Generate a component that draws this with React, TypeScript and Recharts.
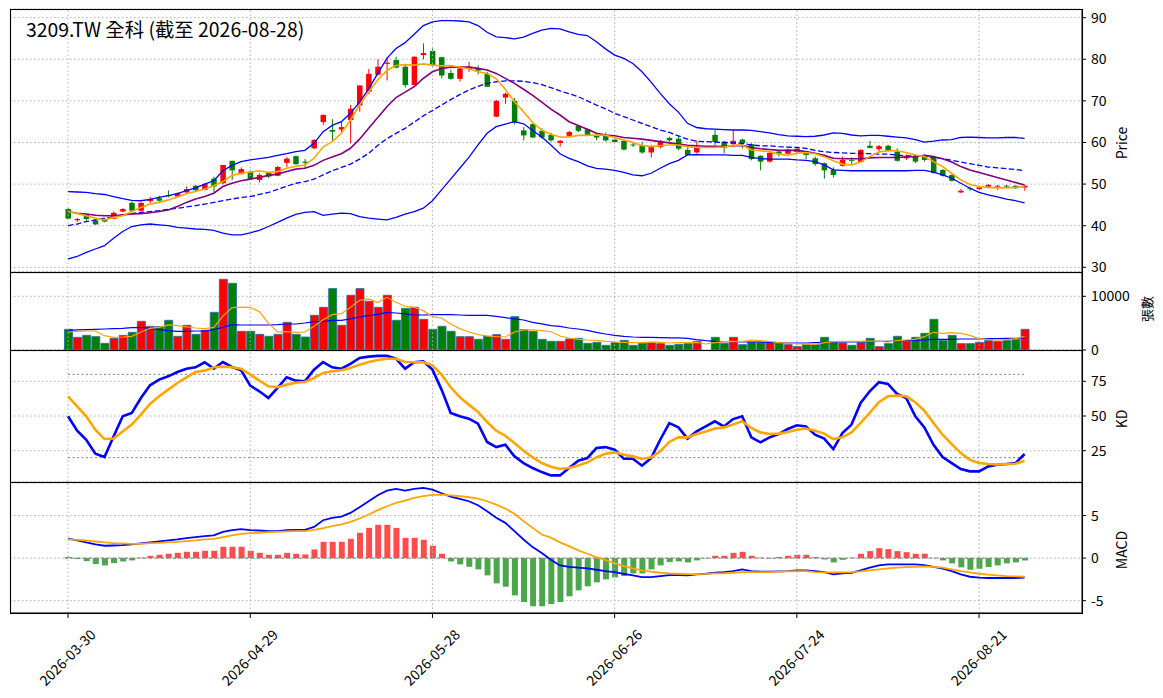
import { ComposedChart, Bar, Line, XAxis, YAxis, CartesianGrid, ReferenceLine, Cell } from "recharts"

const dates = (
  "2026-03-30 2026-03-31 2026-04-01 2026-04-02 2026-04-07 2026-04-08 2026-04-09 2026-04-10 " +
  "2026-04-13 2026-04-14 2026-04-15 2026-04-16 2026-04-17 2026-04-20 2026-04-21 2026-04-22 2026-04-23 2026-04-24 " +
  "2026-04-27 2026-04-28 2026-04-29 2026-04-30 2026-05-04 2026-05-05 2026-05-06 2026-05-07 2026-05-08 " +
  "2026-05-11 2026-05-12 2026-05-13 2026-05-14 2026-05-15 2026-05-18 2026-05-19 2026-05-20 2026-05-21 2026-05-22 " +
  "2026-05-25 2026-05-26 2026-05-27 2026-05-28 2026-05-29 2026-06-01 2026-06-02 2026-06-03 2026-06-04 2026-06-05 " +
  "2026-06-08 2026-06-09 2026-06-10 2026-06-11 2026-06-12 2026-06-15 2026-06-16 2026-06-17 2026-06-18 " +
  "2026-06-22 2026-06-23 2026-06-24 2026-06-25 2026-06-26 2026-06-29 2026-06-30 2026-07-01 2026-07-02 2026-07-03 " +
  "2026-07-06 2026-07-07 2026-07-08 2026-07-09 2026-07-10 2026-07-13 2026-07-14 2026-07-15 2026-07-16 2026-07-17 " +
  "2026-07-20 2026-07-21 2026-07-22 2026-07-23 2026-07-24 2026-07-27 2026-07-28 2026-07-29 2026-07-30 2026-07-31 " +
  "2026-08-03 2026-08-04 2026-08-05 2026-08-06 2026-08-07 2026-08-10 2026-08-11 2026-08-12 2026-08-13 2026-08-14 " +
  "2026-08-17 2026-08-18 2026-08-19 2026-08-20 2026-08-21 2026-08-24 2026-08-25 2026-08-26 2026-08-27 2026-08-28"
).split(" ")

const tickIdx = [0, 20, 40, 60, 80, 100]

const opens = [44.0, 41.3, 42.6, 41.3, 41.5, 41.7, 43.4, 45.5, 43.6, 45.9, 46.6, 47.3, 47.0, 48.0, 49.6, 48.6, 51.3, 50.2, 55.6, 52.4, 53.0, 51.0, 52.7, 52.0, 55.1, 56.7,
  55.4, 58.6, 64.9, 63.0, 63.1, 65.4, 68.9, 72.2, 76.3, 78.9, 79.8, 78.2, 73.8, 81.0, 82.0, 80.5, 76.7, 75.3, 77.7, 77.8, 76.5, 66.2, 70.8, 70.0, 62.9, 64.4, 62.8, 61.8,
  59.9, 61.6, 64.0, 63.2, 61.8, 61.8, 60.7, 60.4, 59.5, 59.4, 57.6, 58.9, 61.1, 60.9, 58.2, 57.6, 59.0, 61.8, 60.2, 59.6, 60.7, 59.6, 56.8, 55.4, 57.8, 57.3, 57.7, 57.6,
  56.2, 55.0, 53.4, 54.4, 55.8, 55.3, 59.2, 58.4, 59.2, 57.8, 56.2, 56.8, 56.8, 56.3, 53.4, 52.2, 48.0, 49.0, 48.8, 49.4, 49.4, 49.6, 49.6, 49.2]
const highs = [44.2, 41.9, 42.8, 41.4, 41.8, 43.4, 44.2, 45.8, 45.6, 46.9, 47.2, 48.5, 48.0, 49.4, 49.8, 50.2, 51.8, 54.6, 55.6, 54.0, 53.3, 52.6, 53.0, 54.4, 56.5, 56.9,
  56.0, 60.8, 66.8, 65.6, 65.0, 69.0, 73.8, 77.7, 80.0, 80.4, 80.6, 78.5, 80.7, 83.8, 82.6, 80.6, 77.5, 78.2, 79.4, 78.5, 77.0, 70.2, 72.0, 70.7, 63.7, 64.6, 63.4, 62.3,
  60.6, 62.8, 64.2, 63.4, 62.2, 62.4, 61.0, 60.6, 60.0, 60.2, 59.4, 60.6, 61.4, 61.4, 59.0, 60.5, 59.0, 63.0, 60.4, 62.9, 60.9, 59.8, 56.9, 57.7, 58.1, 58.5, 58.8, 57.8,
  56.6, 55.2, 54.0, 56.6, 56.4, 58.4, 60.4, 59.4, 59.4, 58.6, 57.1, 57.1, 57.1, 56.8, 53.6, 52.3, 48.8, 49.4, 49.4, 50.0, 49.8, 49.8, 49.7, 49.8]
const lows = [41.6, 40.9, 41.2, 40.2, 40.8, 41.6, 43.2, 43.5, 43.4, 45.4, 45.4, 46.8, 46.8, 47.8, 48.2, 48.5, 48.0, 50.0, 51.0, 52.3, 51.0, 50.4, 51.4, 51.9, 54.1, 54.6,
  53.8, 58.4, 64.2, 60.2, 62.2, 59.8, 67.4, 71.6, 76.1, 74.9, 77.8, 73.2, 73.7, 80.0, 78.2, 75.4, 75.1, 74.6, 77.0, 76.4, 73.3, 66.1, 69.3, 64.3, 60.5, 61.0, 60.9, 60.2,
  59.0, 61.4, 62.5, 61.7, 60.5, 60.2, 60.1, 58.1, 58.9, 57.3, 56.4, 58.6, 60.2, 58.1, 56.9, 57.3, 59.0, 59.4, 57.4, 59.0, 58.6, 55.7, 53.3, 55.2, 56.6, 57.2, 57.3, 56.0,
  54.4, 51.3, 51.6, 54.2, 54.8, 55.1, 58.6, 57.8, 57.8, 55.4, 55.8, 55.1, 55.4, 52.5, 51.8, 50.6, 47.8, 48.4, 48.5, 49.0, 48.6, 49.2, 48.8, 48.4]
const closes = [41.7, 41.6, 41.6, 40.3, 41.0, 43.1, 44.0, 43.6, 45.5, 46.4, 46.0, 47.1, 47.8, 48.8, 48.5, 50.0, 49.4, 54.6, 53.3, 53.6, 51.2, 52.2, 51.8, 54.1, 56.1, 54.8,
  55.1, 60.6, 66.6, 62.6, 63.7, 68.1, 73.7, 76.5, 78.2, 79.2, 78.0, 73.8, 80.6, 81.5, 78.6, 76.1, 75.3, 77.8, 78.2, 77.3, 73.4, 70.0, 71.7, 64.8, 61.7, 61.2, 61.2, 60.5,
  60.4, 62.5, 62.8, 61.8, 61.2, 60.5, 60.1, 58.3, 59.3, 57.6, 58.9, 60.3, 60.5, 58.5, 57.0, 59.0, 59.0, 60.1, 58.8, 60.4, 59.8, 56.0, 55.4, 57.5, 57.3, 58.3, 58.5, 57.0,
  54.8, 53.3, 52.2, 55.8, 55.6, 58.2, 58.7, 59.1, 58.0, 55.6, 56.8, 55.4, 55.8, 52.7, 52.0, 50.8, 48.4, 48.8, 49.2, 49.8, 49.6, 49.4, 49.0, 49.6]

const maFast = [43.4, 42.9, 42.4, 41.8, 41.4, 42.0, 42.4, 43.4, 44.4, 45.2, 45.6, 46.2, 46.9, 47.7, 48.2, 48.8, 49.6, 50.6, 52.1, 52.6, 52.9, 53.2, 52.8, 53.0, 53.8, 54.3,
  54.6, 56.2, 58.9, 60.2, 62.2, 65.4, 69.0, 72.2, 75.0, 77.3, 78.5, 78.7, 78.6, 78.9, 78.6, 78.4, 78.5, 78.1, 77.7, 77.0, 76.6, 75.3, 72.8, 69.8, 67.4, 64.8, 63.0, 62.0,
  61.3, 61.3, 61.7, 61.7, 61.8, 61.7, 61.2, 60.6, 60.0, 59.3, 59.0, 59.2, 59.4, 59.4, 59.0, 58.8, 58.8, 58.8, 58.9, 59.3, 59.4, 58.2, 58.0, 57.8, 57.2, 56.9, 57.4, 57.6,
  57.3, 56.6, 55.6, 54.8, 54.6, 55.3, 56.6, 57.7, 58.0, 58.0, 57.6, 57.0, 56.6, 55.4, 54.2, 52.6, 51.0, 49.9, 49.4, 49.2, 49.1, 49.1, 49.2, 49.4]
const maSlow = [43.4, 43.0, 42.8, 42.5, 42.4, 42.4, 42.6, 42.8, 42.9, 43.1, 43.4, 43.8, 44.6, 45.6, 46.4, 47.0, 47.8, 49.4, 50.2, 50.8, 51.2, 51.6, 52.1, 52.4, 53.0, 53.6,
  53.8, 54.5, 55.7, 56.5, 57.3, 58.6, 60.8, 63.4, 66.0, 68.6, 70.8, 72.1, 73.4, 75.4, 77.0, 77.8, 78.1, 78.1, 78.1, 77.8, 77.4, 76.6, 75.4, 74.2, 72.8, 71.3, 69.7, 68.0,
  66.6, 65.0, 64.1, 63.2, 62.2, 61.8, 61.6, 61.2, 61.0, 60.8, 60.5, 60.2, 59.9, 59.6, 59.3, 59.2, 59.1, 59.1, 59.0, 59.2, 59.3, 58.8, 58.5, 58.3, 58.1, 58.1, 58.1, 57.8,
  57.4, 56.9, 56.2, 56.1, 56.1, 56.1, 56.3, 56.4, 56.4, 56.4, 56.5, 56.6, 56.9, 56.6, 56.1, 55.3, 54.2, 53.4, 52.8, 52.2, 51.6, 51.0, 50.4, 49.8]
const bbUpper = [48.2, 48.1, 48.0, 47.7, 47.5, 47.0, 46.5, 46.1, 46.0, 46.3, 46.8, 47.2, 47.7, 48.4, 49.1, 50.0, 50.8, 53.2, 54.5, 55.4, 55.8, 56.1, 56.4, 56.9, 57.3, 57.8,
  58.1, 59.8, 62.6, 64.1, 65.0, 67.0, 69.7, 72.9, 76.6, 80.2, 82.6, 84.0, 86.0, 88.1, 89.0, 89.3, 89.3, 89.2, 89.0, 88.1, 86.5, 85.4, 85.2, 84.9, 85.3, 86.2, 87.0, 87.4,
  87.3, 86.6, 86.0, 85.7, 84.2, 82.5, 81.0, 80.2, 79.0, 77.0, 74.5, 71.8, 69.3, 67.3, 64.6, 63.6, 63.3, 63.2, 63.1, 63.0, 63.0, 62.9, 62.6, 62.3, 61.9, 61.6, 61.5, 61.4,
  61.5, 61.8, 62.3, 62.2, 61.8, 61.6, 61.7, 61.7, 61.5, 61.3, 61.1, 60.7, 60.1, 60.3, 60.6, 60.7, 61.2, 61.3, 61.2, 61.1, 61.1, 61.2, 61.2, 61.0]
const bbMid = [40.0, 40.4, 41.0, 41.4, 41.8, 42.1, 42.6, 42.9, 43.2, 43.4, 43.6, 43.9, 44.2, 44.5, 44.8, 45.2, 45.6, 46.0, 46.4, 46.8, 47.0, 47.5, 48.0, 48.7, 49.5, 50.2,
  50.6, 51.2, 52.2, 53.2, 54.0, 54.8, 56.0, 57.4, 59.3, 60.9, 62.2, 63.4, 64.9, 66.4, 67.7, 69.0, 70.3, 71.5, 72.6, 73.5, 74.2, 74.6, 74.8, 74.8, 74.7, 74.4, 73.9, 73.2,
  72.4, 71.7, 71.0, 70.0, 69.0, 68.1, 67.0, 66.2, 65.4, 64.6, 63.8, 63.0, 62.4, 61.6, 60.8, 60.3, 60.2, 60.1, 60.0, 59.9, 59.8, 59.4, 59.2, 59.2, 59.0, 58.9, 58.8, 58.6,
  58.1, 57.8, 57.6, 57.5, 57.4, 57.4, 57.3, 57.2, 57.2, 57.0, 56.8, 56.8, 56.6, 56.4, 56.1, 55.7, 55.3, 54.9, 54.5, 54.1, 53.9, 53.7, 53.5, 53.2]
const bbLower = [32.0, 32.6, 33.6, 34.4, 35.2, 37.0, 38.6, 39.8, 40.2, 40.4, 40.2, 40.0, 39.6, 39.4, 39.2, 39.1, 38.9, 38.2, 37.8, 37.8, 38.3, 38.9, 39.8, 40.8, 41.8, 42.7,
  43.2, 43.4, 42.5, 42.8, 43.0, 42.9, 42.2, 41.8, 41.6, 41.4, 42.0, 42.8, 43.4, 44.2, 46.0, 48.6, 51.2, 53.8, 56.4, 59.4, 62.2, 63.8, 64.4, 65.0, 64.5, 62.9, 61.3, 59.4,
  57.3, 56.2, 55.4, 54.4, 53.8, 53.6, 53.3, 52.8, 52.2, 52.0, 52.6, 53.8, 54.9, 55.7, 57.0, 57.1, 57.0, 57.0, 57.0, 56.9, 56.9, 56.4, 56.1, 56.0, 56.0, 56.0, 55.8, 55.7,
  55.4, 54.6, 53.4, 53.3, 53.2, 53.2, 53.2, 53.2, 53.2, 53.2, 53.2, 53.3, 53.3, 52.9, 52.2, 51.4, 50.2, 49.0, 48.0, 47.4, 46.9, 46.4, 46.0, 45.5]

const volumes = [3850, 2360, 2730, 2480, 1240, 2170, 2730, 3290, 5340, 4410, 4350, 5530, 2550, 4600, 2920, 3670, 7020, 13170, 12420, 3480, 3480, 2920, 2550, 2920, 5160, 2920,
  2420, 6460, 7950, 11430, 4600, 10190, 11430, 9070, 7950, 10190, 5530, 7760, 7950, 5710, 3850, 4410, 3480, 2480, 2480, 1990, 2550, 2860, 1990, 6210, 3790, 3480, 1990, 1620,
  1620, 2050, 2170, 1240, 1430, 870, 1370, 1800, 870, 1240, 1370, 1180, 870, 1060, 1180, 1620, 870, 2360, 1240, 2360, 990, 1430, 1430, 1430, 1240, 990, 620, 990,
  990, 2360, 1490, 1300, 870, 1430, 2170, 620, 1180, 2550, 1620, 2360, 3110, 5710, 1740, 2730, 1180, 1180, 1430, 1740, 1620, 1740, 1930, 3850]
const volMa5 = [3350, 3480, 3540, 3540, 2670, 2360, 2420, 2550, 3350, 4040, 4220, 4660, 4530, 4290, 4100, 3980, 4220, 6300, 7900, 8000, 7950, 7150, 5000, 3350, 3420, 3290,
  3350, 4410, 5650, 6580, 6770, 7950, 9250, 9500, 8820, 9810, 8880, 8140, 7950, 7330, 6210, 5960, 4850, 3980, 3350, 2860, 2610, 2480, 2420, 3350, 3730, 3730, 3600, 3400,
  2600, 2240, 1990, 1860, 1800, 1620, 1490, 1430, 1370, 1370, 1490, 1430, 1300, 1370, 1370, 1430, 1120, 1370, 1550, 1620, 1550, 1860, 1740, 1620, 1370, 1300, 1120, 1090,
  1060, 1370, 1550, 1620, 1620, 1620, 1680, 1620, 1490, 1740, 1860, 1990, 2480, 3290, 3110, 3230, 3110, 2730, 2110, 1930, 1860, 1930, 2110, 2550]
const volMa20 = [3670, 3730, 3790, 3850, 3910, 3980, 4040, 4160, 4220, 4040, 3790, 3600, 3480, 3480, 3540, 3540, 3790, 4220, 4720, 4660, 4660, 4660, 4660, 4720, 4840, 4840,
  5030, 5280, 5280, 5530, 5530, 5780, 6150, 6400, 6650, 7020, 6890, 6710, 6520, 6520, 6580, 6580, 6580, 6520, 6460, 6460, 6460, 6270, 6030, 5780, 5590, 5160, 4850, 4530,
  4410, 4100, 3910, 3660, 3290, 2980, 2730, 2550, 2420, 2360, 2360, 2300, 2240, 2240, 2170, 1930, 1740, 1620, 1550, 1550, 1490, 1490, 1490, 1430, 1370, 1300, 1300, 1300,
  1370, 1430, 1490, 1490, 1490, 1550, 1550, 1620, 1620, 1680, 1740, 1800, 1860, 1990, 1990, 1990, 2050, 2050, 2050, 2110, 2110, 2170, 2170, 2240]

const kLine = [49.8, 39.4, 32.9, 22.8, 20.4, 35.3, 49.8, 52.2, 63.0, 72.1, 76.2, 78.6, 81.7, 84.1, 85.1, 88.7, 84.1, 88.9, 85.3, 82.9, 71.9, 67.8, 63.0, 70.2, 77.9, 75.5,
  75.0, 83.4, 88.9, 85.1, 84.1, 87.5, 91.8, 92.8, 93.3, 93.3, 91.3, 84.1, 88.7, 89.4, 83.4, 69.0, 52.2, 49.8, 48.1, 44.5, 31.3, 27.6, 29.3, 20.9, 16.1, 12.5, 9.6, 7.2,
  7.2, 12.5, 17.8, 19.7, 26.9, 27.6, 25.7, 19.2, 19.2, 14.2, 19.7, 32.9, 44.9, 41.8, 33.7, 38.9, 42.5, 46.2, 42.5, 47.8, 49.8, 34.6, 31.0, 34.6, 37.0, 40.6, 43.3, 42.5,
  36.5, 33.7, 26.2, 37.7, 43.8, 59.4, 67.8, 74.3, 73.1, 65.9, 63.0, 49.8, 41.8, 29.3, 20.4, 16.1, 11.8, 10.1, 10.1, 13.7, 14.9, 15.4, 16.1, 22.6]
const dLine = [64.2, 57.0, 49.8, 40.1, 33.4, 33.7, 38.9, 43.8, 51.0, 58.7, 64.2, 69.0, 73.8, 77.9, 81.7, 82.7, 85.1, 85.6, 85.1, 84.1, 79.8, 75.5, 71.4, 70.7, 72.6, 74.0,
  74.5, 77.4, 81.0, 82.2, 82.9, 84.6, 87.0, 88.9, 90.4, 91.3, 91.3, 88.9, 88.7, 88.7, 86.5, 79.8, 70.7, 63.5, 58.2, 52.9, 45.7, 39.4, 35.8, 30.5, 25.0, 20.2, 16.1, 13.5,
  11.8, 12.5, 14.4, 16.6, 20.2, 22.8, 23.8, 22.1, 20.9, 19.0, 20.2, 24.5, 31.3, 34.6, 34.6, 37.0, 38.9, 40.9, 41.8, 43.8, 46.2, 41.4, 38.2, 37.0, 37.3, 38.5, 40.1, 41.0,
  39.4, 37.3, 33.4, 34.6, 38.2, 45.0, 52.2, 59.9, 64.2, 64.7, 64.2, 59.9, 53.8, 45.0, 36.5, 29.8, 23.3, 18.5, 16.1, 15.4, 15.1, 15.4, 15.6, 17.8]

const dif = [2.30, 2.07, 1.84, 1.60, 1.45, 1.48, 1.52, 1.60, 1.72, 1.84, 1.95, 2.07, 2.19, 2.34, 2.46, 2.58, 2.66, 3.09, 3.28, 3.40, 3.28, 3.24, 3.16, 3.16, 3.28, 3.32,
  3.32, 3.67, 4.45, 4.73, 4.88, 5.31, 5.98, 6.68, 7.38, 7.93, 8.13, 7.93, 8.13, 8.24, 8.05, 7.62, 7.23, 6.95, 6.68, 6.21, 5.51, 4.73, 4.14, 3.16, 2.19, 1.29, 0.59, -0.20,
  -0.86, -1.02, -1.13, -1.21, -1.37, -1.52, -1.64, -1.84, -2.03, -2.23, -2.23, -2.11, -1.99, -1.99, -2.03, -1.91, -1.84, -1.72, -1.64, -1.52, -1.33, -1.52, -1.60, -1.60, -1.56, -1.52, -1.45, -1.45,
  -1.52, -1.64, -1.91, -1.80, -1.72, -1.45, -1.13, -0.86, -0.74, -0.74, -0.74, -0.74, -0.82, -1.02, -1.25, -1.52, -1.91, -2.19, -2.30, -2.34, -2.34, -2.34, -2.34, -2.30]
const dea = [2.19, 2.15, 2.07, 1.95, 1.84, 1.76, 1.72, 1.68, 1.68, 1.76, 1.80, 1.88, 1.91, 1.99, 2.07, 2.19, 2.27, 2.46, 2.66, 2.85, 2.93, 2.97, 3.05, 3.09, 3.13, 3.16,
  3.16, 3.32, 3.52, 3.75, 3.95, 4.26, 4.65, 5.12, 5.63, 6.09, 6.48, 6.76, 7.07, 7.27, 7.42, 7.46, 7.38, 7.27, 7.15, 6.99, 6.68, 6.29, 5.82, 5.20, 4.34, 3.55, 2.77, 2.40,
  1.85, 1.41, 0.90, 0.51, 0.12, -0.23, -0.59, -0.94, -1.21, -1.45, -1.60, -1.72, -1.80, -1.84, -1.88, -1.88, -1.86, -1.80, -1.78, -1.72, -1.64, -1.64, -1.64, -1.64, -1.60, -1.56, -1.52, -1.52,
  -1.64, -1.68, -1.68, -1.68, -1.64, -1.56, -1.45, -1.33, -1.21, -1.13, -1.05, -1.02, -0.98, -1.02, -1.13, -1.33, -1.52, -1.68, -1.84, -1.95, -2.03, -2.11, -2.15, -2.19]
const hist = [0.12, -0.12, -0.35, -0.70, -0.86, -0.59, -0.39, -0.27, 0.05, 0.27, 0.39, 0.51, 0.62, 0.74, 0.74, 0.86, 0.86, 1.33, 1.33, 1.33, 0.86, 0.62, 0.39, 0.39, 0.62, 0.51,
  0.43, 1.02, 1.91, 1.91, 1.91, 2.27, 2.97, 3.55, 3.91, 3.91, 3.55, 2.38, 2.38, 2.15, 1.45, 0.51, -0.39, -0.74, -1.02, -1.33, -2.03, -2.97, -3.36, -4.38, -5.16, -5.66, -5.66, -5.40,
  -5.16, -4.49, -3.79, -3.32, -2.85, -2.50, -2.27, -2.11, -1.80, -1.80, -1.33, -0.86, -0.47, -0.39, -0.51, -0.27, -0.04, 0.27, 0.27, 0.62, 0.74, 0.27, 0.04, -0.04, 0.12, 0.27, 0.39, 0.39,
  0.12, -0.16, -0.51, -0.20, 0.04, 0.51, 0.82, 1.17, 1.05, 0.82, 0.70, 0.51, 0.51, 0.02, -0.27, -0.62, -1.09, -1.37, -1.25, -1.05, -0.86, -0.62, -0.51, -0.27]

const rows = dates.map((date, i) => ({
  i,
  date,
  open: opens[i],
  high: highs[i],
  low: lows[i],
  close: closes[i],
  maFast: maFast[i],
  maSlow: maSlow[i],
  bbUpper: bbUpper[i],
  bbMid: bbMid[i],
  bbLower: bbLower[i],
  vol: volumes[i],
  volMa5: volMa5[i],
  volMa20: volMa20[i],
  k: kLine[i],
  d: dLine[i],
  dif: dif[i],
  dea: dea[i],
  hist: hist[i],
}))

const UP = "#ff0000"
const DOWN = "#008000"
const candleColor = (r: any) => (r.close > r.open ? UP : r.close < r.open ? DOWN : "#ffffff")

const W = 1163
const AXIS_W = 81
const X_DOMAIN: [number, number] = [-6.37, 111.3]
const MARGIN = { top: 0, right: 0, bottom: 0, left: 10 }
const GRID = "#b0b0b0"
const DOTS = "1.5 2.5"
const tickStyle = { fontSize: 14, fill: "#000" }
const SVG_STYLE = { overflow: "visible" as const }

function Candle(props: any) {
  const { x, y, width, height, payload } = props
  const color = candleColor(payload)
  const cx = x + width / 2
  const span = payload.high - payload.low
  const ratio = span > 0 ? height / span : 0
  const py = (v: number) => y + (payload.high - v) * ratio
  const top = py(Math.max(payload.open, payload.close))
  const bot = py(Math.min(payload.open, payload.close))
  return (
    <g>
      <line x1={cx} x2={cx} y1={y} y2={y + height} stroke={color} strokeWidth={1} />
      <rect x={x} y={top} width={width} height={Math.max(bot - top, 0.9)} fill={color} />
    </g>
  )
}

function DateTick(props: any) {
  const { x, y, payload } = props
  return (
    <text
      transform={`translate(${x - 1},${y + 39}) rotate(-45)`}
      textAnchor="middle"
      dominantBaseline="central"
      fontSize={14}
      fill="#000"
    >
      {dates[payload.value]}
    </text>
  )
}

function VGrid() {
  return tickIdx.map((t) => (
    <ReferenceLine key={"v" + t} x={t} stroke={GRID} strokeDasharray={DOTS} />
  ))
}

function yAxisProps(domain: [number, number], ticks: number[]) {
  return {
    yAxisId: 0,
    orientation: "right" as const,
    width: AXIS_W,
    type: "number" as const,
    domain,
    ticks,
    allowDataOverflow: true,
    interval: 0 as const,
    tick: tickStyle,
    tickSize: 4,
    tickMargin: 5,
    axisLine: { stroke: "#000" },
    tickLine: { stroke: "#000" },
  }
}

function PriceChart() {
  return (
    <ComposedChart width={W} height={263} data={rows} margin={MARGIN} style={SVG_STYLE}>
      <CartesianGrid vertical={false} stroke={GRID} strokeDasharray={DOTS} />
      <XAxis dataKey="i" type="number" domain={X_DOMAIN} ticks={tickIdx} allowDataOverflow hide />
      <YAxis {...yAxisProps([28.87, 92.08], [30, 40, 50, 60, 70, 80, 90])} />
      {VGrid()}
      <Bar dataKey={(r: any) => [r.low, r.high]} barSize={5.5} shape={(p: any) => <Candle {...p} />} isAnimationActive={false} />
      <Line dataKey="bbUpper" stroke="#0000ff" strokeWidth={1.3} dot={false} isAnimationActive={false} />
      <Line dataKey="bbMid" stroke="#0000ff" strokeWidth={1.3} strokeDasharray="5.5 2.5" dot={false} isAnimationActive={false} />
      <Line dataKey="bbLower" stroke="#0000ff" strokeWidth={1.3} dot={false} isAnimationActive={false} />
      <Line dataKey="maSlow" stroke="#800080" strokeWidth={1.6} dot={false} isAnimationActive={false} />
      <Line dataKey="maFast" stroke="#ffa500" strokeWidth={1.6} dot={false} isAnimationActive={false} />
    </ComposedChart>
  )
}

function VolumeChart() {
  return (
    <ComposedChart width={W} height={78} data={rows} margin={MARGIN} style={SVG_STYLE}>
      <CartesianGrid vertical={false} stroke={GRID} strokeDasharray={DOTS} />
      <XAxis dataKey="i" type="number" domain={X_DOMAIN} ticks={tickIdx} allowDataOverflow hide />
      <YAxis {...yAxisProps([0, 14525], [0, 10000])} />
      {VGrid()}
      <Bar dataKey="vol" barSize={8} isAnimationActive={false}>
        {rows.map((r) => {
          const c = candleColor(r)
          return <Cell key={r.i} fill={c} stroke={c === "#ffffff" ? "none" : "#2a6fa6"} strokeWidth={0.9} />
        })}
      </Bar>
      <Line dataKey="volMa20" stroke="#0000ff" strokeWidth={1.2} dot={false} isAnimationActive={false} />
      <Line dataKey="volMa5" stroke="#ffa500" strokeWidth={1.2} dot={false} isAnimationActive={false} />
    </ComposedChart>
  )
}

function KdChart() {
  return (
    <ComposedChart width={W} height={132} data={rows} margin={MARGIN} style={SVG_STYLE}>
      <CartesianGrid vertical={false} stroke={GRID} strokeDasharray={DOTS} />
      <XAxis dataKey="i" type="number" domain={X_DOMAIN} ticks={tickIdx} allowDataOverflow hide />
      <YAxis {...yAxisProps([2.45, 97.55], [25, 50, 75])} />
      {VGrid()}
      <ReferenceLine segment={[{ x: 0, y: 80 }, { x: 105, y: 80 }]} stroke="#808080" strokeDasharray="2 2.5" />
      <ReferenceLine segment={[{ x: 0, y: 20 }, { x: 105, y: 20 }]} stroke="#808080" strokeDasharray="2 2.5" />
      <Line dataKey="k" stroke="#0000ff" strokeWidth={2.6} dot={false} isAnimationActive={false} />
      <Line dataKey="d" stroke="#ffa500" strokeWidth={2.6} dot={false} isAnimationActive={false} />
    </ComposedChart>
  )
}

function MacdChart() {
  return (
    <ComposedChart width={W} height={131 + 85} data={rows} margin={MARGIN} style={SVG_STYLE}>
      <CartesianGrid vertical={false} stroke={GRID} strokeDasharray={DOTS} />
      <XAxis
        dataKey="i"
        type="number"
        domain={X_DOMAIN}
        ticks={tickIdx}
        allowDataOverflow
        height={85}
        interval={0}
        tickSize={5}
        tickMargin={0}
        axisLine={{ stroke: "#000" }}
        tickLine={{ stroke: "#000" }}
        tick={<DateTick />}
      />
      <YAxis {...yAxisProps([-6.45, 8.94], [-5, 0, 5])} />
      {VGrid()}
      <ReferenceLine segment={[{ x: -0.4, y: 0 }, { x: 105.4, y: 0 }]} stroke="#808080" strokeDasharray="4 2" />
      <Bar dataKey="hist" barSize={6} isAnimationActive={false}>
        {rows.map((r) => (
          <Cell key={r.i} fill={r.hist >= 0 ? "#ff4d4d" : "#4ca64c"} />
        ))}
      </Bar>
      <Line dataKey="dif" stroke="#0000ff" strokeWidth={1.8} dot={false} isAnimationActive={false} />
      <Line dataKey="dea" stroke="#ffa500" strokeWidth={1.8} dot={false} isAnimationActive={false} />
    </ComposedChart>
  )
}

export default function App() {
  const font = "'Noto Sans CJK TC', 'Noto Sans', sans-serif"
  return (
    <div style={{ position: "absolute", left: 0, top: 0, width: W, height: 698, background: "#fff", fontFamily: font }}>
      <style>{"svg.recharts-surface{overflow:visible}"}</style>
      <div style={{ position: "absolute", left: 0, top: 9 }}><PriceChart /></div>
      <div style={{ position: "absolute", left: 0, top: 272 }}><VolumeChart /></div>
      <div style={{ position: "absolute", left: 0, top: 350 }}><KdChart /></div>
      <div style={{ position: "absolute", left: 0, top: 482 }}><MacdChart /></div>
      <svg width={W} height={698} style={{ position: "absolute", left: 0, top: 0, pointerEvents: "none" }}>
        <g fill="none" stroke="#000" strokeWidth={1.1}>
          <rect x={10.5} y={9.5} width={1072} height={263} />
          <rect x={10.5} y={272.5} width={1072} height={78} />
          <rect x={10.5} y={350.5} width={1072} height={132} />
          <rect x={10.5} y={482.5} width={1072} height={131} />
        </g>
        <text x={26} y={37} fontSize={19.4} fill="#000">3209.TW 全科 (截至 2026-08-28)</text>
        <text transform="translate(1121,143) rotate(-90)" textAnchor="middle" dominantBaseline="central" fontSize={14} fill="#000">Price</text>
        <text transform="translate(1146,309) rotate(-90)" textAnchor="middle" dominantBaseline="central" fontSize={13} fill="#000">張數</text>
        <text transform="translate(1121,419) rotate(-90)" textAnchor="middle" dominantBaseline="central" fontSize={14} fill="#000">KD</text>
        <text transform="translate(1121,550) rotate(-90)" textAnchor="middle" dominantBaseline="central" fontSize={14} fill="#000">MACD</text>
      </svg>
    </div>
  )
}
